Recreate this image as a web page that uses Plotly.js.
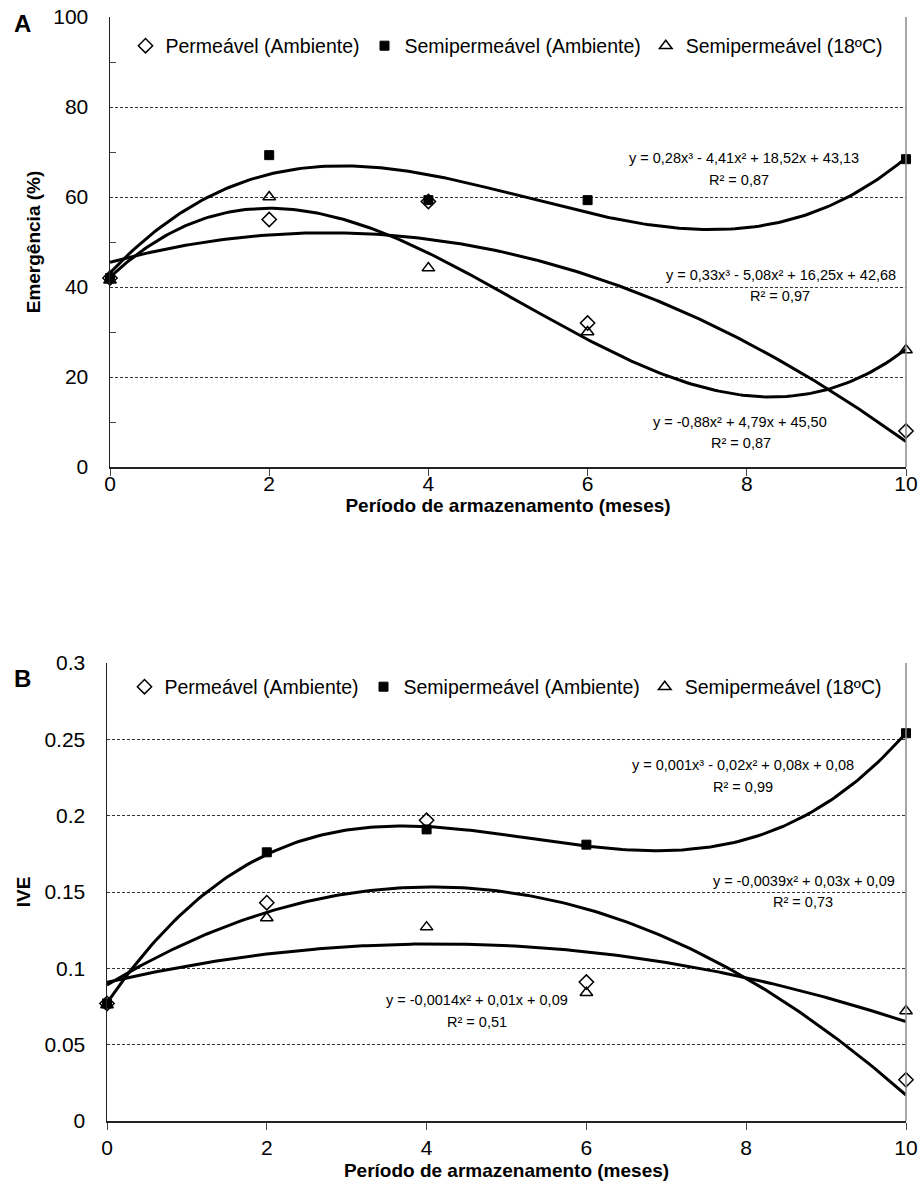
<!DOCTYPE html>
<html>
<head>
<meta charset="utf-8">
<script src="https://cdn.plot.ly/plotly-3.0.1.min.js"></script>
<style>html,body{margin:0;padding:0;background:#fff;}#chart{width:922px;height:1194px;}</style>
</head>
<body>
<div id="chart"></div>
<script>
// ---------- data ----------
const months = [0, 2, 4, 6, 10];
const seriesNames = ["Permeável (Ambiente)", "Semipermeável (Ambiente)", "Semipermeável (18ºC)"];

// Panel A: Emergência (%)
const emergPermeavel = [42, 55, 59, 32, 8];
const emergSemiAmbiente = [42, 69.3, 59.3, 59.3, 68.4];
const emergSemi18 = [41.5, 60, 44.2, 30, 26];
const fitDegreesA = [2, 3, 3];
const eqTextsA = ["y = -0,88x² + 4,79x + 45,50", "y = 0,28x³ - 4,41x² + 18,52x + 43,13", "y = 0,33x³ - 5,08x² + 16,25x + 42,68"];
const r2TextsA = ["R² = 0,87", "R² = 0,87", "R² = 0,97"];

// Panel B: IVE
const ivePermeavel = [0.077, 0.143, 0.197, 0.091, 0.027];
const iveSemiAmbiente = [0.077, 0.176, 0.191, 0.181, 0.254];
const iveSemi18 = [0.076, 0.133, 0.127, 0.084, 0.072];
const fitDegreesB = [2, 3, 2];
const eqTextsB = ["y = -0,0039x² + 0,03x + 0,09", "y = 0,001x³ - 0,02x² + 0,08x + 0,08", "y = -0,0014x² + 0,01x + 0,09"];
const r2TextsB = ["R² = 0,73", "R² = 0,99", "R² = 0,51"];

const xTickVals = [0, 2, 4, 6, 8, 10];
const xTitle = "Período de armazenamento (meses)";
const yTitleA = "Emergência (%)";
const yTitleB = "IVE";
const yTickValsB = [0, 0.05, 0.1, 0.15, 0.2, 0.25, 0.3];
const yTickTextB = ["0", "0.05", "0.1", "0.15", "0.2", "0.25", "0.3"];

// ---------- least-squares polynomial trendline (as the spreadsheet did) ----------
function polyfit(xs, ys, deg) {
  const n = deg + 1;
  const A = [], b = [];
  for (let i = 0; i < n; i++) {
    A.push([]);
    for (let j = 0; j < n; j++) A[i].push(xs.reduce((s, x) => s + Math.pow(x, i + j), 0));
    b.push(xs.reduce((s, x, k) => s + ys[k] * Math.pow(x, i), 0));
  }
  for (let c = 0; c < n; c++) {
    let p = c;
    for (let r = c + 1; r < n; r++) if (Math.abs(A[r][c]) > Math.abs(A[p][c])) p = r;
    [A[c], A[p]] = [A[p], A[c]]; [b[c], b[p]] = [b[p], b[c]];
    for (let r = c + 1; r < n; r++) {
      const f = A[r][c] / A[c][c];
      for (let k = c; k < n; k++) A[r][k] -= f * A[c][k];
      b[r] -= f * b[c];
    }
  }
  const coef = new Array(n).fill(0);
  for (let r = n - 1; r >= 0; r--) {
    let s = b[r];
    for (let k = r + 1; k < n; k++) s -= A[r][k] * coef[k];
    coef[r] = s / A[r][r];
  }
  return coef;
}
function trend(xs, ys, deg) {
  const c = polyfit(xs, ys, deg);
  const lo = Math.min(...xs), hi = Math.max(...xs);
  const tx = [], ty = [];
  for (let i = 0; i <= 200; i++) {
    const x = lo + (hi - lo) * i / 200;
    tx.push(x);
    ty.push(c.reduce((s, ck, k) => s + ck * Math.pow(x, k), 0));
  }
  return {x: tx, y: ty};
}

// ---------- styling ----------
const FONT = "Liberation Sans, Arial, Helvetica, sans-serif";
const markerStyles = [
  {symbol: "diamond-open", size: 11, color: "#000", line: {color: "#000", width: 1.5}},
  {symbol: "square", size: 9, color: "#000", line: {color: "#000", width: 1}},
  {symbol: "triangle-up-open", size: 11, color: "#000", line: {color: "#000", width: 1.5}}
];

const W = 922, H = 1194;
const px = v => v / W;
const py = v => 1 - v / H;

const traces = [];
function addPanel(ys, degs, xa, ya, legendId) {
  ys.forEach((y, i) => {
    const t = trend(months, y, degs[i]);
    traces.push({x: t.x, y: t.y, xaxis: xa, yaxis: ya, mode: "lines", showlegend: false,
      line: {color: "#000", width: 3}, hoverinfo: "skip", legend: legendId});
  });
  ys.forEach((y, i) => {
    traces.push({x: months, y: y, xaxis: xa, yaxis: ya, mode: "markers", name: seriesNames[i],
      marker: markerStyles[i], cliponaxis: false, legend: legendId});
  });
}
addPanel([emergPermeavel, emergSemiAmbiente, emergSemi18], fitDegreesA, "x", "y", "legend");
addPanel([ivePermeavel, iveSemiAmbiente, iveSemi18], fitDegreesB, "x2", "y2", "legend2");

const axisX = (domain, anchor, labelOff, titleOff) => ({
  domain: domain, anchor: anchor, range: [0, 10], tickvals: xTickVals, ticks: "outside", ticklen: 7,
  tickcolor: "#444", tickwidth: 1, showline: true, linecolor: "#222", linewidth: 1.5, showgrid: false,
  zeroline: false, tickfont: {family: FONT, size: 21, color: "#000"}, ticklabelstandoff: labelOff,
  title: {text: xTitle, font: {family: FONT, size: 19, color: "#000", weight: "bold"}, standoff: titleOff}
});

const layout = {
  width: W, height: H, margin: {l: 0, r: 0, t: 0, b: 0}, paper_bgcolor: "#fff", plot_bgcolor: "#fff",
  font: {family: FONT, color: "#000"}, showlegend: true,
  xaxis: axisX([px(110), px(906)], "y", -10, 4),
  xaxis2: axisX([px(107), px(906)], "y2", 0, 6),
  yaxis: {
    domain: [py(467), py(17)], anchor: "x", range: [0, 100], dtick: 20, ticks: "", showline: true,
    linecolor: "#222", linewidth: 1.5, showgrid: true, gridcolor: "#333", gridwidth: 1, griddash: "3px,2px",
    zeroline: false, tickfont: {family: FONT, size: 21, color: "#000"}, ticklabelstandoff: 16,
    minor: {dtick: 10, ticks: "inside", ticklen: 6, tickcolor: "#444", showgrid: false},
    title: {text: yTitleA, font: {family: FONT, size: 19, color: "#000", weight: "bold"}, standoff: 7}
  },
  yaxis2: {
    domain: [py(1121), py(663)], anchor: "x2", range: [0, 0.3], tickvals: yTickValsB, ticktext: yTickTextB,
    ticks: "", showline: true, linecolor: "#222", linewidth: 1.5, showgrid: true, gridcolor: "#333",
    gridwidth: 1, griddash: "3px,2px", zeroline: false, tickfont: {family: FONT, size: 21, color: "#000"},
    ticklabelstandoff: 16,
    title: {text: yTitleB, font: {family: FONT, size: 19, color: "#000", weight: "bold"}, standoff: 9}
  },
  legend: {orientation: "h", x: px(507), xanchor: "center", y: py(46), yanchor: "middle",
    font: {family: FONT, size: 19.5, color: "#000"}, bgcolor: "rgba(0,0,0,0)", itemwidth: 30},
  legend2: {orientation: "h", x: px(506), xanchor: "center", y: py(687), yanchor: "middle",
    font: {family: FONT, size: 19.5, color: "#000"}, bgcolor: "rgba(0,0,0,0)", itemwidth: 30},
  shapes: [
    {type: "line", xref: "x domain", yref: "y domain", x0: 1, x1: 1, y0: 0, y1: 1, line: {color: "#888", width: 1.5}},
    {type: "line", xref: "x2 domain", yref: "y2 domain", x0: 1, x1: 1, y0: 0, y1: 1, line: {color: "#888", width: 1.5}}
  ],
  annotations: []
};

const ann = (text, x, y, size, bold) => ({text: text, xref: "paper", yref: "paper", x: px(x), y: py(y),
  xanchor: "center", yanchor: "middle", showarrow: false,
  font: {family: FONT, size: size, color: "#000", weight: bold ? "bold" : "normal"}});

layout.annotations.push(ann("A", 22, 24, 24, true));
layout.annotations.push(ann("B", 22, 678, 24, true));

// equation labels panel A (order: Permeável, Semi Ambiente, Semi 18ºC)
const eqPosA = [[740, 422, 741, 443], [744, 158, 739, 180], [781, 275, 780, 296]];
eqTextsA.forEach((t, i) => {
  layout.annotations.push(ann(t, eqPosA[i][0], eqPosA[i][1], 14.5, false));
  layout.annotations.push(ann(r2TextsA[i], eqPosA[i][2], eqPosA[i][3], 14.5, false));
});
const eqPosB = [[804, 881, 803, 902], [743, 765, 743, 787], [477, 1000, 477, 1022]];
eqTextsB.forEach((t, i) => {
  layout.annotations.push(ann(t, eqPosB[i][0], eqPosB[i][1], 14.5, false));
  layout.annotations.push(ann(r2TextsB[i], eqPosB[i][2], eqPosB[i][3], 14.5, false));
});

Plotly.newPlot("chart", traces, layout, {displayModeBar: false, staticPlot: true});
</script>
</body>
</html>
